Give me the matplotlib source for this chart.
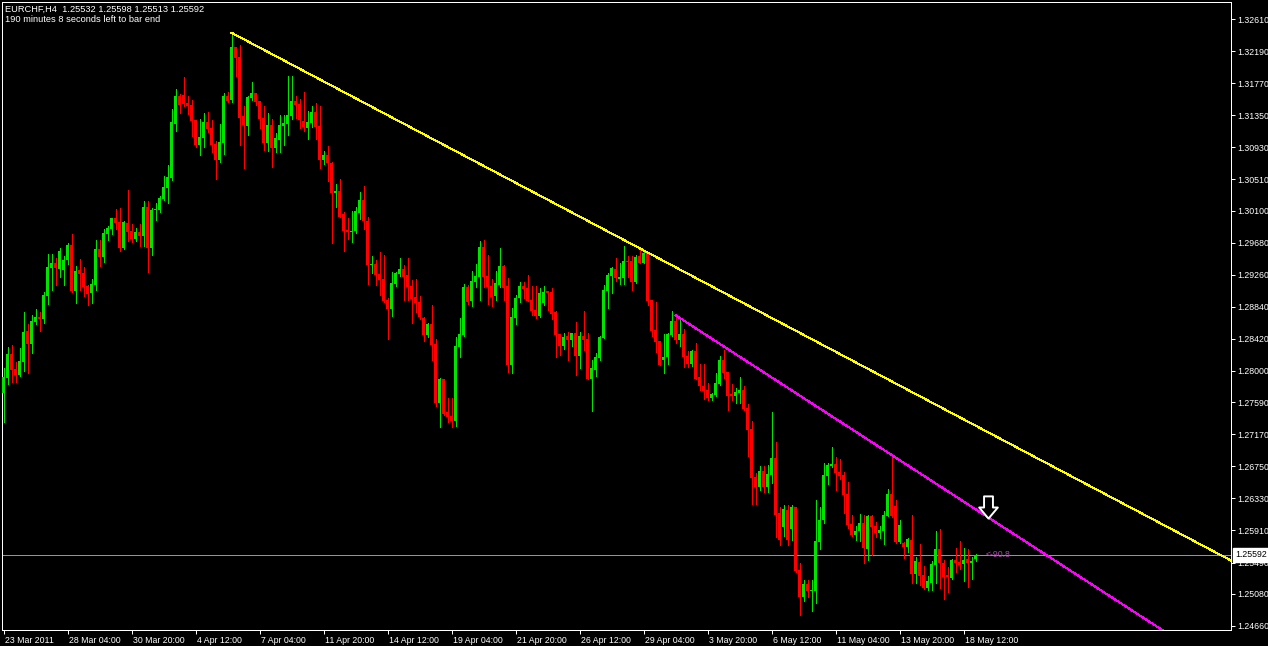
# %%
import numpy as np
import matplotlib
matplotlib.use('Agg')
import matplotlib.pyplot as plt
import matplotlib.transforms as mtransforms
from matplotlib.path import Path

# %% chart data (EURCHF H4)
symbol = 'EURCHF,H4'
timer_text = '190 minutes 8 seconds left to bar end'

opens = [
    1.2771, 1.2791, 1.2822, 1.2803, 1.2795, 1.2812, 1.2852, 1.2835, 1.2864, 1.2871,
    1.2868, 1.2898, 1.2935, 1.2941, 1.2934, 1.2932, 1.2945, 1.2965, 1.2905, 1.2932,
    1.2928, 1.2911, 1.2902, 1.2913, 1.2960, 1.2949, 1.2979, 1.2986, 1.3000, 1.2995,
    1.2961, 1.2994, 1.2983, 1.2973, 1.2982, 1.2977, 1.3015, 1.2961, 1.3011, 1.3011,
    1.3025, 1.3040, 1.3053, 1.3123, 1.3160, 1.3161, 1.3151, 1.3148, 1.3129, 1.3096,
    1.3105, 1.3126, 1.3118, 1.3097, 1.3076, 1.3099, 1.3160, 1.3155, 1.3224, 1.3211,
    1.3134, 1.3121, 1.3158, 1.3164, 1.3154, 1.3131, 1.3099, 1.3122, 1.3092, 1.3103,
    1.3121, 1.3123, 1.3134, 1.3154, 1.3150, 1.3127, 1.3118, 1.3125, 1.3139, 1.3121,
    1.3076, 1.3083, 1.3072, 1.3033, 1.3036, 1.3006, 1.2985, 1.2982, 1.2983, 1.3007,
    1.3024, 1.2996, 1.2939, 1.2940, 1.2927, 1.2920, 1.2893, 1.2881, 1.2914, 1.2927,
    1.2934, 1.2926, 1.2911, 1.2897, 1.2890, 1.2869, 1.2847, 1.2861, 1.2835, 1.2758,
    1.2789, 1.2746, 1.2741, 1.2734, 1.2831, 1.2847, 1.2910, 1.2892, 1.2916, 1.2923,
    1.2962, 1.2924, 1.2911, 1.2898, 1.2913, 1.2937, 1.2911, 1.2808, 1.2869, 1.2896,
    1.2911, 1.2909, 1.2893, 1.2880, 1.2872, 1.2889, 1.2905, 1.2903, 1.2877, 1.2848,
    1.2833, 1.2846, 1.2841, 1.2850, 1.2820, 1.2846, 1.2842, 1.2789, 1.2801, 1.2817,
    1.2843, 1.2905, 1.2924, 1.2934, 1.2920, 1.2922, 1.2944, 1.2944, 1.2916, 1.2951,
    1.2941, 1.2954, 1.2893, 1.2854, 1.2839, 1.2814, 1.2818, 1.2847, 1.2865, 1.2841,
    1.2848, 1.2820, 1.2809, 1.2826, 1.2792, 1.2780, 1.2775, 1.2765, 1.2768, 1.2783,
    1.2814, 1.2799, 1.2770, 1.2767, 1.2771, 1.2775, 1.2751, 1.2724, 1.2661, 1.2648,
    1.2669, 1.2648, 1.2664, 1.2686, 1.2614, 1.2596, 1.2618, 1.2593, 1.2622, 1.2539,
    1.2504, 1.2521, 1.2512, 1.2512, 1.2576, 1.2605, 1.2662, 1.2675, 1.2678, 1.2668,
    1.2664, 1.2639, 1.2599, 1.2585, 1.2590, 1.2601, 1.2567, 1.2610, 1.2597, 1.2588,
    1.2590, 1.2610, 1.2639, 1.2623, 1.2576, 1.2575, 1.2569, 1.2579, 1.2534, 1.2550,
    1.2533, 1.2516, 1.2522, 1.2546, 1.2567, 1.2548, 1.2533, 1.2529, 1.2552, 1.2550,
    1.2547, 1.2554, 1.2548, 1.25532,
]
highs = [
    1.2804, 1.2831, 1.2834, 1.2812, 1.2830, 1.2877, 1.2861, 1.2873, 1.2881, 1.2877,
    1.2903, 1.2953, 1.2953, 1.2948, 1.2961, 1.2951, 1.2968, 1.2979, 1.2937, 1.2947,
    1.2936, 1.2913, 1.2920, 1.2971, 1.2971, 1.2986, 1.2990, 1.3000, 1.3012, 1.3013,
    1.2996, 1.3037, 1.2992, 1.2987, 1.2992, 1.3023, 1.3023, 1.3013, 1.3020, 1.3029,
    1.3055, 1.3070, 1.3143, 1.3169, 1.3163, 1.3185, 1.3160, 1.3155, 1.3129, 1.3130,
    1.3138, 1.3139, 1.3129, 1.3101, 1.3123, 1.3164, 1.3165, 1.3243, 1.3224, 1.3227,
    1.3147, 1.3160, 1.3178, 1.3164, 1.3154, 1.3147, 1.3138, 1.3130, 1.3112, 1.3135,
    1.3135, 1.3186, 1.3186, 1.3160, 1.3156, 1.3165, 1.3140, 1.3147, 1.3151, 1.3147,
    1.3088, 1.3095, 1.3074, 1.3045, 1.3051, 1.3008, 1.3000, 1.3009, 1.3015, 1.3034,
    1.3042, 1.3002, 1.2951, 1.2945, 1.2956, 1.2952, 1.2896, 1.2930, 1.2930, 1.2948,
    1.2939, 1.2948, 1.2919, 1.2920, 1.2898, 1.2871, 1.2863, 1.2886, 1.2842, 1.2791,
    1.2789, 1.2765, 1.2765, 1.2844, 1.2869, 1.2914, 1.2913, 1.2931, 1.2940, 1.2970,
    1.2971, 1.2952, 1.2920, 1.2931, 1.2961, 1.2939, 1.2922, 1.2882, 1.2899, 1.2916,
    1.2916, 1.2926, 1.2911, 1.2911, 1.2909, 1.2911, 1.2905, 1.2909, 1.2878, 1.2848,
    1.2850, 1.2851, 1.2850, 1.2864, 1.2851, 1.2878, 1.2850, 1.2814, 1.2823, 1.2846,
    1.2913, 1.2928, 1.2936, 1.2948, 1.2941, 1.2964, 1.2951, 1.2951, 1.2952, 1.2958,
    1.2958, 1.2956, 1.2893, 1.2890, 1.2839, 1.2848, 1.2850, 1.2878, 1.2873, 1.2871,
    1.2855, 1.2826, 1.2827, 1.2837, 1.2809, 1.2809, 1.2784, 1.2771, 1.2797, 1.2820,
    1.2827, 1.2799, 1.2783, 1.2778, 1.2792, 1.2780, 1.2757, 1.2734, 1.2666, 1.2675,
    1.2675, 1.2677, 1.2746, 1.2707, 1.2622, 1.2624, 1.2624, 1.2624, 1.2622, 1.2548,
    1.2526, 1.2526, 1.2526, 1.2631, 1.2622, 1.2679, 1.2679, 1.2700, 1.2687, 1.2685,
    1.2668, 1.2654, 1.2611, 1.2597, 1.2613, 1.2611, 1.2611, 1.2611, 1.2602, 1.2597,
    1.2616, 1.2645, 1.2690, 1.2631, 1.2605, 1.2576, 1.2581, 1.2611, 1.2556, 1.2573,
    1.2544, 1.2531, 1.2551, 1.2590, 1.2593, 1.2552, 1.2543, 1.2554, 1.2568, 1.2577,
    1.2568, 1.2567, 1.2556, 1.25598,
]
lows = [
    1.2733, 1.2783, 1.2785, 1.2785, 1.2793, 1.2800, 1.2797, 1.2823, 1.2861, 1.2852,
    1.2863, 1.2888, 1.2906, 1.2913, 1.2923, 1.2913, 1.2940, 1.2903, 1.2889, 1.2906,
    1.2898, 1.2886, 1.2889, 1.2906, 1.2937, 1.2943, 1.2971, 1.2979, 1.2986, 1.2957,
    1.2960, 1.2970, 1.2969, 1.2970, 1.2964, 1.2964, 1.2930, 1.2952, 1.2998, 1.3008,
    1.3024, 1.3020, 1.3050, 1.3114, 1.3138, 1.3147, 1.3137, 1.3108, 1.3093, 1.3083,
    1.3093, 1.3113, 1.3087, 1.3051, 1.3074, 1.3084, 1.3152, 1.3152, 1.3186, 1.3096,
    1.3066, 1.3109, 1.3155, 1.3148, 1.3118, 1.3089, 1.3088, 1.3067, 1.3087, 1.3087,
    1.3096, 1.3109, 1.3130, 1.3131, 1.3118, 1.3114, 1.3104, 1.3120, 1.3104, 1.3066,
    1.3071, 1.3049, 1.2968, 1.3015, 1.3002, 1.2957, 1.2973, 1.2969, 1.2981, 1.2999,
    1.2986, 1.2914, 1.2928, 1.2913, 1.2899, 1.2890, 1.2842, 1.2872, 1.2911, 1.2924,
    1.2893, 1.2893, 1.2863, 1.2877, 1.2868, 1.2839, 1.2844, 1.2814, 1.2754, 1.2727,
    1.2742, 1.2733, 1.2727, 1.2728, 1.2818, 1.2846, 1.2888, 1.2885, 1.2910, 1.2893,
    1.2910, 1.2888, 1.2885, 1.2893, 1.2910, 1.2893, 1.2799, 1.2797, 1.2861, 1.2890,
    1.2896, 1.2892, 1.2873, 1.2869, 1.2871, 1.2886, 1.2880, 1.2868, 1.2818, 1.2821,
    1.2829, 1.2814, 1.2833, 1.2795, 1.2804, 1.2827, 1.2789, 1.2747, 1.2793, 1.2814,
    1.2843, 1.2882, 1.2902, 1.2918, 1.2914, 1.2914, 1.2923, 1.2906, 1.2915, 1.2941,
    1.2941, 1.2886, 1.2846, 1.2825, 1.2808, 1.2797, 1.2809, 1.2846, 1.2837, 1.2833,
    1.2805, 1.2805, 1.2806, 1.2789, 1.2775, 1.2763, 1.2762, 1.2762, 1.2767, 1.2782,
    1.2791, 1.2749, 1.2762, 1.2758, 1.2758, 1.2749, 1.2689, 1.2626, 1.2626, 1.2644,
    1.2641, 1.2641, 1.2653, 1.2582, 1.2572, 1.2584, 1.2572, 1.2579, 1.2537, 1.2480,
    1.2499, 1.2504, 1.2485, 1.2496, 1.2567, 1.2601, 1.2652, 1.2674, 1.2644, 1.2658,
    1.2614, 1.2594, 1.2584, 1.2579, 1.2577, 1.2548, 1.2552, 1.2559, 1.2582, 1.2581,
    1.2573, 1.2610, 1.2609, 1.2575, 1.2575, 1.2555, 1.2563, 1.2522, 1.2522, 1.2520,
    1.2514, 1.2513, 1.2513, 1.2522, 1.2516, 1.2501, 1.2510, 1.2527, 1.2537, 1.2541,
    1.2525, 1.2517, 1.2527, 1.25513,
]
closes = [
    1.2792, 1.2822, 1.2801, 1.2795, 1.2813, 1.2851, 1.2835, 1.2865, 1.2871, 1.2868,
    1.2899, 1.2936, 1.2941, 1.2935, 1.2957, 1.2945, 1.2965, 1.2905, 1.2931, 1.2927,
    1.2910, 1.2901, 1.2914, 1.2960, 1.2949, 1.2981, 1.2987, 1.3000, 1.2994, 1.2961,
    1.2995, 1.2982, 1.2973, 1.2982, 1.2977, 1.3015, 1.2961, 1.3011, 1.3012, 1.3027,
    1.3041, 1.3054, 1.3126, 1.3160, 1.3148, 1.3150, 1.3147, 1.3127, 1.3096, 1.3106,
    1.3126, 1.3117, 1.3096, 1.3076, 1.3100, 1.3160, 1.3154, 1.3224, 1.3210, 1.3131,
    1.3122, 1.3159, 1.3164, 1.3152, 1.3130, 1.3099, 1.3122, 1.3092, 1.3105, 1.3122,
    1.3125, 1.3135, 1.3154, 1.3148, 1.3129, 1.3120, 1.3126, 1.3139, 1.3120, 1.3076,
    1.3083, 1.3072, 1.3033, 1.3036, 1.3002, 1.2983, 1.2982, 1.2983, 1.3009, 1.3024,
    1.2996, 1.2939, 1.2940, 1.2926, 1.2919, 1.2892, 1.2881, 1.2915, 1.2928, 1.2934,
    1.2923, 1.2910, 1.2894, 1.2889, 1.2871, 1.2847, 1.2861, 1.2834, 1.2758, 1.2789,
    1.2744, 1.2740, 1.2734, 1.2833, 1.2848, 1.2910, 1.2890, 1.2918, 1.2924, 1.2962,
    1.2923, 1.2910, 1.2897, 1.2915, 1.2937, 1.2909, 1.2808, 1.2871, 1.2896, 1.2911,
    1.2907, 1.2892, 1.2878, 1.2872, 1.2902, 1.2903, 1.2902, 1.2875, 1.2847, 1.2833,
    1.2844, 1.2841, 1.2850, 1.2820, 1.2846, 1.2841, 1.2789, 1.2804, 1.2818, 1.2844,
    1.2906, 1.2926, 1.2935, 1.2922, 1.2923, 1.2944, 1.2943, 1.2916, 1.2949, 1.2941,
    1.2954, 1.2892, 1.2852, 1.2838, 1.2808, 1.2818, 1.2848, 1.2865, 1.2841, 1.2848,
    1.2818, 1.2809, 1.2826, 1.2789, 1.2780, 1.2774, 1.2765, 1.2770, 1.2784, 1.2814,
    1.2797, 1.2767, 1.2767, 1.2772, 1.2775, 1.2750, 1.2723, 1.2660, 1.2648, 1.2669,
    1.2648, 1.2665, 1.2686, 1.2611, 1.2579, 1.2619, 1.2579, 1.2622, 1.2538, 1.2504,
    1.2521, 1.2512, 1.2513, 1.2577, 1.2605, 1.2664, 1.2677, 1.2678, 1.2666, 1.2662,
    1.2637, 1.2598, 1.2585, 1.2590, 1.2601, 1.2568, 1.2610, 1.2596, 1.2588, 1.2592,
    1.2611, 1.2639, 1.2610, 1.2576, 1.2598, 1.2569, 1.2580, 1.2534, 1.2551, 1.2531,
    1.2516, 1.2525, 1.2547, 1.2567, 1.2548, 1.2530, 1.2530, 1.2552, 1.2548, 1.2546,
    1.2552, 1.2548, 1.2551, 1.25592,
]

time_labels = ['23 Mar 2011', '28 Mar 04:00', '30 Mar 20:00', '4 Apr 12:00',
               '7 Apr 04:00', '11 Apr 20:00', '14 Apr 12:00', '19 Apr 04:00',
               '21 Apr 20:00', '26 Apr 12:00', '29 Apr 04:00', '3 May 20:00',
               '6 May 12:00', '11 May 04:00', '13 May 20:00', '18 May 12:00']
bars_per_label = 16

price_ticks = [1.32610, 1.32190, 1.31770, 1.31350, 1.30930, 1.30510, 1.30100,
               1.29680, 1.29260, 1.28840, 1.28420, 1.28000, 1.27590, 1.27170,
               1.26750, 1.26330, 1.25910, 1.25490, 1.25080, 1.24660]
last_price = 1.25592

# trend lines: two anchor points each (bar index, price), drawn as rays
yellow_bars = [57, 160]
yellow_prices = [1.3243, 1.2958]
magenta_bars = [168, 222]
magenta_prices = [1.2873, 1.2690]

arrow_bar = 246
arrow_price = 1.2622
distance_label = '<-90.8'

# %%
def plot_terminal_chart(outpath='out.png'):
    W, H = 1268, 646
    bull = '#00e400'
    bear = '#ff0000'
    fsize = 6.3
    lw = 0.72  # one pixel at 100 dpi
    plt.rcParams['font.family'] = ['Liberation Sans', 'DejaVu Sans']

    fig = plt.figure(figsize=(W / 100, H / 100), dpi=100, facecolor='black')
    ax = fig.add_axes([2 / W, 16 / H, 1229 / W, 628 / H], facecolor='black')

    o = np.array(opens)
    h = np.array(highs)
    l = np.array(lows)
    c = np.array(closes)
    x = np.arange(len(o))

    ylo, yhi = 1.24606, 1.32833
    one_px = (yhi - ylo) / 628
    colors = np.where(c >= o, bull, bear)

    ax.vlines(x, l, h, colors=colors, linewidth=lw, antialiased=False, zorder=2)
    ax.bar(x, np.maximum(np.abs(c - o), one_px), bottom=np.minimum(o, c),
           width=0.75, color=colors, linewidth=0, antialiased=False, zorder=3)

    xmin, xmax = -0.375, 306.875
    ax.set_xlim(xmin, xmax)
    ax.set_ylim(ylo, yhi)

    # bid line
    ax.axhline(last_price, color='#8a96a6', linewidth=lw, zorder=1)

    # trend rays
    for bars, prices, col in [(yellow_bars, yellow_prices, '#ffff00'),
                              (magenta_bars, magenta_prices, '#ff00ff')]:
        slope = (prices[1] - prices[0]) / (bars[1] - bars[0])
        y_end = prices[0] + slope * (xmax - bars[0])
        ax.plot([bars[0], xmax], [prices[0], y_end], color=col,
                linewidth=lw, antialiased=False, zorder=4)

    # down arrow object
    arrow = Path([(-0.2, 0.5), (0.2, 0.5), (0.2, 0.0), (0.42, 0.0), (0.0, -0.5),
                  (-0.42, 0.0), (-0.2, 0.0), (-0.2, 0.5)],
                 [Path.MOVETO] + [Path.LINETO] * 6 + [Path.CLOSEPOLY])
    ax.plot([arrow_bar], [arrow_price], marker=arrow, markersize=16,
            markerfacecolor='black', markeredgecolor='white',
            markeredgewidth=1.4, zorder=5)

    ax.text(arrow_bar - 0.4, last_price, distance_label, color='#a848a8',
            fontsize=fsize, va='center', ha='left', zorder=5)

    # axes look
    for s in ax.spines.values():
        s.set_color('white')
        s.set_linewidth(lw)

    ax.yaxis.tick_right()
    ax.set_yticks(price_ticks)
    ax.set_yticklabels(['%.5f' % p for p in price_ticks])
    ax.tick_params(axis='y', colors='white', length=3, width=lw,
                   direction='out', pad=1.5, labelsize=fsize)

    ax.set_xticks(np.arange(len(time_labels)) * bars_per_label)
    ax.set_xticklabels(time_labels, ha='left')
    ax.tick_params(axis='x', colors='white', length=3, width=lw,
                   direction='out', pad=1, labelsize=fsize)
    shift = mtransforms.ScaledTranslation(1.5 / 100, 0, fig.dpi_scale_trans)
    for lab in ax.get_xticklabels():
        lab.set_transform(lab.get_transform() + shift)

    # current price box on the scale
    trans = mtransforms.blended_transform_factory(ax.transAxes, ax.transData)
    ax.text(1.0 + 4.5 / 1229, last_price, '%.5f' % last_price, transform=trans,
            ha='left', va='center', fontsize=fsize, color='black', zorder=6,
            clip_on=False,
            bbox=dict(boxstyle='square,pad=0.3', facecolor='white', edgecolor='white'))

    # header texts
    fig.text(5 / W, 1 - 9 / H, symbol + '  ' + ' '.join('%.5f' % v for v in
             [opens[-1], highs[-1], lows[-1], closes[-1]]),
             color='white', fontsize=6.7, va='center', ha='left')
    fig.text(5 / W, 1 - 19 / H, timer_text, color='white', fontsize=6.7,
             va='center', ha='left')

    fig.savefig(outpath, dpi=100, facecolor='black')


plot_terminal_chart()
